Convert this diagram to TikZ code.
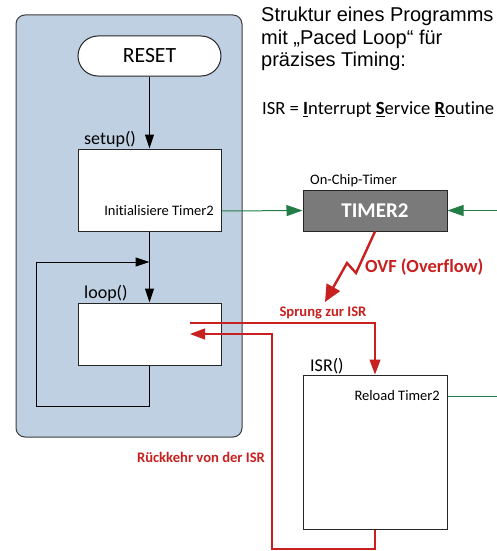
\documentclass[tikz,border=0pt]{standalone}
\usepackage{fontspec}
\setmainfont{Carlito}[Ligatures=NoCommon]
\newfontfamily\arialf{Liberation Sans}
\usetikzlibrary{arrows.meta}
\definecolor{panelblue}{RGB}{191,208,226}
\definecolor{panelborder}{RGB}{60,60,60}
\definecolor{timergray}{RGB}{122,122,122}
\definecolor{myred}{RGB}{200,32,31}
\definecolor{mygreen}{RGB}{35,125,70}
\tikzset{
  box/.style={draw=black!85, fill=white, line width=1pt, inner sep=0pt},
  flow/.style={draw=black, line width=1pt, -{Triangle[length=14pt,width=9pt]}},
  gline/.style={draw=mygreen, line width=1pt},
  garrow/.style={gline, -{Triangle[length=16pt,width=11pt]}},
  rline/.style={draw=myred, line width=1.3pt},
  rarrow/.style={rline, -{Triangle[length=15pt,width=11pt]}},
  rlabel/.style={text=myred, font=\bfseries\fontsize{14.6}{17}\selectfont, inner sep=0pt},
  small/.style={font=\fontsize{14.5}{17}\selectfont, inner sep=0pt},
  fname/.style={font=\fontsize{18}{21}\selectfont, inner sep=0pt, anchor=south west},
}
\begin{document}
\begin{tikzpicture}[x=1pt,y=-1pt]
\useasboundingbox (0,0) rectangle (497,551);
% panel
\node (panel) [draw=panelborder, fill=panelblue, line width=1pt, rounded corners=9pt,
  minimum width=226pt, minimum height=422pt, inner sep=0pt] at (129,226) {};
% boxes
\node (reset) [box, rounded corners=20pt, minimum width=143pt, minimum height=40pt,
  font=\fontsize{21.7}{24}\selectfont] at (149.5,56) {RESET};
\node (setup) [box, minimum width=143pt, minimum height=82pt] at (149.5,190) {};
\node (loop) [box, minimum width=143pt, minimum height=62pt] at (149.5,334) {};
\node (timer) [draw=black!85, fill=timergray, line width=1pt, minimum width=144pt, minimum height=41pt,
  text=white, font=\bfseries\fontsize{21}{24}\selectfont] at (375,210.5) {TIMER2};
\node (isr) [box, minimum width=144pt, minimum height=154pt] at (375,452) {};
% labels
\node (setuplbl) [fname] at (84,148) {setup()};
\node (looplbl) [fname] at (84,302) {loop()};
\node (isrlbl) [fname] at (310,374) {ISR()};
\node (init) [small, anchor=east] at (214,211) {Initialisiere Timer2};
\node (reload) [small, anchor=east] at (440,396) {Reload Timer2};
\node (onchip) [small, anchor=south west] at (310,187) {On-Chip-Timer};
% title
\node (title) [anchor=north west, inner sep=0pt, align=left,
  font=\arialf\fontsize{20}{22.5}\selectfont] at (261,7)
  {Struktur eines Programms\\mit „Paced Loop“ für\\präzises Timing:};
\node (isrdef) [anchor=west, inner sep=0pt, font=\fontsize{18.6}{21}\selectfont] at (262,110)
  {ISR = \underline{\textbf{I}}nterrupt \underline{\textbf{S}}ervice \underline{\textbf{R}}outine};
% black flow
\draw[flow] (reset.south) -- (setup.north);
\draw[flow] (setup.south) -- (loop.north);
\coordinate (lb) at (36,406);
\coordinate (lj) at (149.5,262);
\draw[flow] (loop.south) |- (lb) |- (lj);
% green
\coordinate (gin) at (497,210.5);
\coordinate (gout) at (497,396);
\draw[garrow] (init.east -| setup.east) -- (timer.west);
\draw[garrow] (gin) -- (timer.east);
\draw[gline] (reload.east -| isr.east) -- (gout);
% lightning
\coordinate (z1) at (356,273);
\coordinate (z2) at (347,263);
\coordinate (ovfend) at (325,302);
\draw[draw=myred, line width=2.4pt, -{Triangle[length=17pt,width=15pt]}] (timer.south) -- (z1) -- (z2) -- (ovfend);
\node (ovf) [text=myred, font=\bfseries\fontsize{18.5}{21}\selectfont, inner sep=0pt, anchor=west] at (365,267) {OVF (Overflow)};
% sprung
\coordinate (s1) at (190,323);
\draw[rarrow] (s1) -| (isr.north);
\node (sprung) [rlabel] at (323,313) {Sprung zur ISR};
% return
\coordinate (r1) at (375,549);
\coordinate (r2) at (272,334);
\coordinate (r3) at (190,334);
\draw[rarrow] (isr.south) |- (r1) -| (r2) -- (r3);
\node (rueck) [rlabel] at (201,457) {Rückkehr von der ISR};
\end{tikzpicture}
\end{document}
